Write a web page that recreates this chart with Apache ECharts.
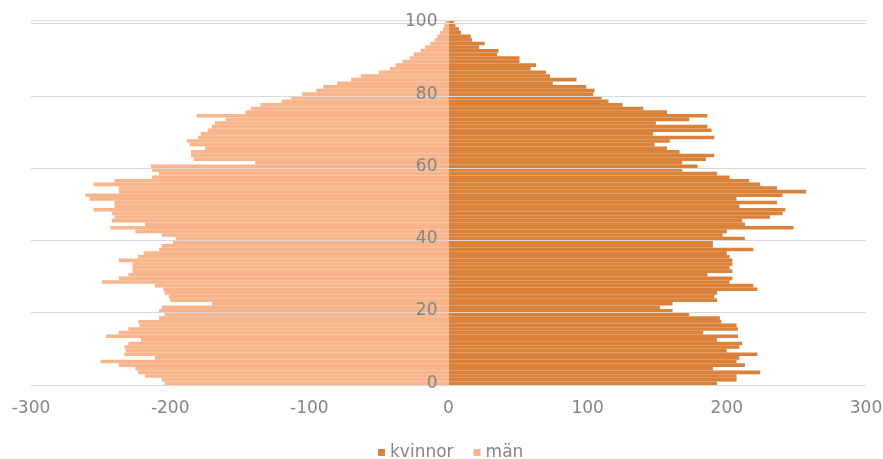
<!DOCTYPE html>
<html><head><meta charset="utf-8">
<script src="https://cdn.jsdelivr.net/npm/echarts@6/dist/echarts.min.js"></script>
<style>html,body{margin:0;padding:0;background:#fff}#c{width:883px;height:459px}</style>
</head><body><div id="c"></div>
<script>
const ages = Array.from({length:101},(_, i)=>String(i));
const kvinnor = [193,207,207,224,190,213,207,209,222,200,209,211,193,208,183,208,207,196,195,173,161,152,161,193,191,193,222,219,202,204,186,204,202,204,204,202,200,219,190,190,213,197,200,248,213,211,231,240,242,209,236,207,240,257,236,224,216,202,193,168,179,168,185,191,166,157,148,159,191,147,189,186,149,173,186,157,140,125,115,110,104,105,99,75,92,73,70,59,63,51,51,35,36,22,26,17,16,9,7.5,5,4];
const man = [204,206,218,223,225,237,250,211,233,232,233,230,221,246,237,230,222,223,208,204,208,206,170,200,201,204,205,211,249,237,230,227,227,227,237,223,219,208,206,198,196,206,225,243,218,242,240,242,255,240,240,258,261,237,237,255,240,213,208,213,214,139,183,185,185,175,186,188,180,178,173,170,168,160,181,146,142,135,120,113,105,95,90,80,70,63,50,42,38,33,28,25,20,17,13,10,8,6,4,3,2];
const xTicks = {min:-300, max:300, interval:100};
const txt = '#858585';
const chart = echarts.init(document.getElementById('c'));
chart.setOption({
  animation:false,
  textStyle:{fontFamily:'DejaVu Sans, sans-serif'},
  grid:{left:31,right:17,top:20,bottom:74,containLabel:false,outerBoundsMode:'none'},
  legend:{top:439,left:373,itemWidth:7,itemHeight:7,itemGap:20,icon:'rect',
    textStyle:{color:txt,fontSize:17},data:['kvinnor','män']},
  xAxis:{type:'value',min:xTicks.min,max:xTicks.max,interval:xTicks.interval,
    axisLine:{show:false},axisTick:{show:false},splitLine:{show:false},
    axisLabel:{color:txt,fontSize:17,margin:15}},
  yAxis:{type:'category',data:ages,z:10,position:'left',offset:-417.5,
    axisLine:{show:false,onZero:false},axisTick:{show:false},
    axisLabel:{color:txt,fontSize:17,margin:11,interval:19},
    splitLine:{show:true,interval:19,lineStyle:{color:'#d9d9d9',width:1}}},
  series:[
    {name:'kvinnor',type:'bar',data:kvinnor,barCategoryGap:'0%',barGap:'-100%',
      itemStyle:{color:'#da823a'}},
    {name:'män',type:'bar',data:man.map(v=>-v),barCategoryGap:'0%',barGap:'-100%',
      itemStyle:{color:'#f8b48b'}}
  ]
});
</script></body></html>
